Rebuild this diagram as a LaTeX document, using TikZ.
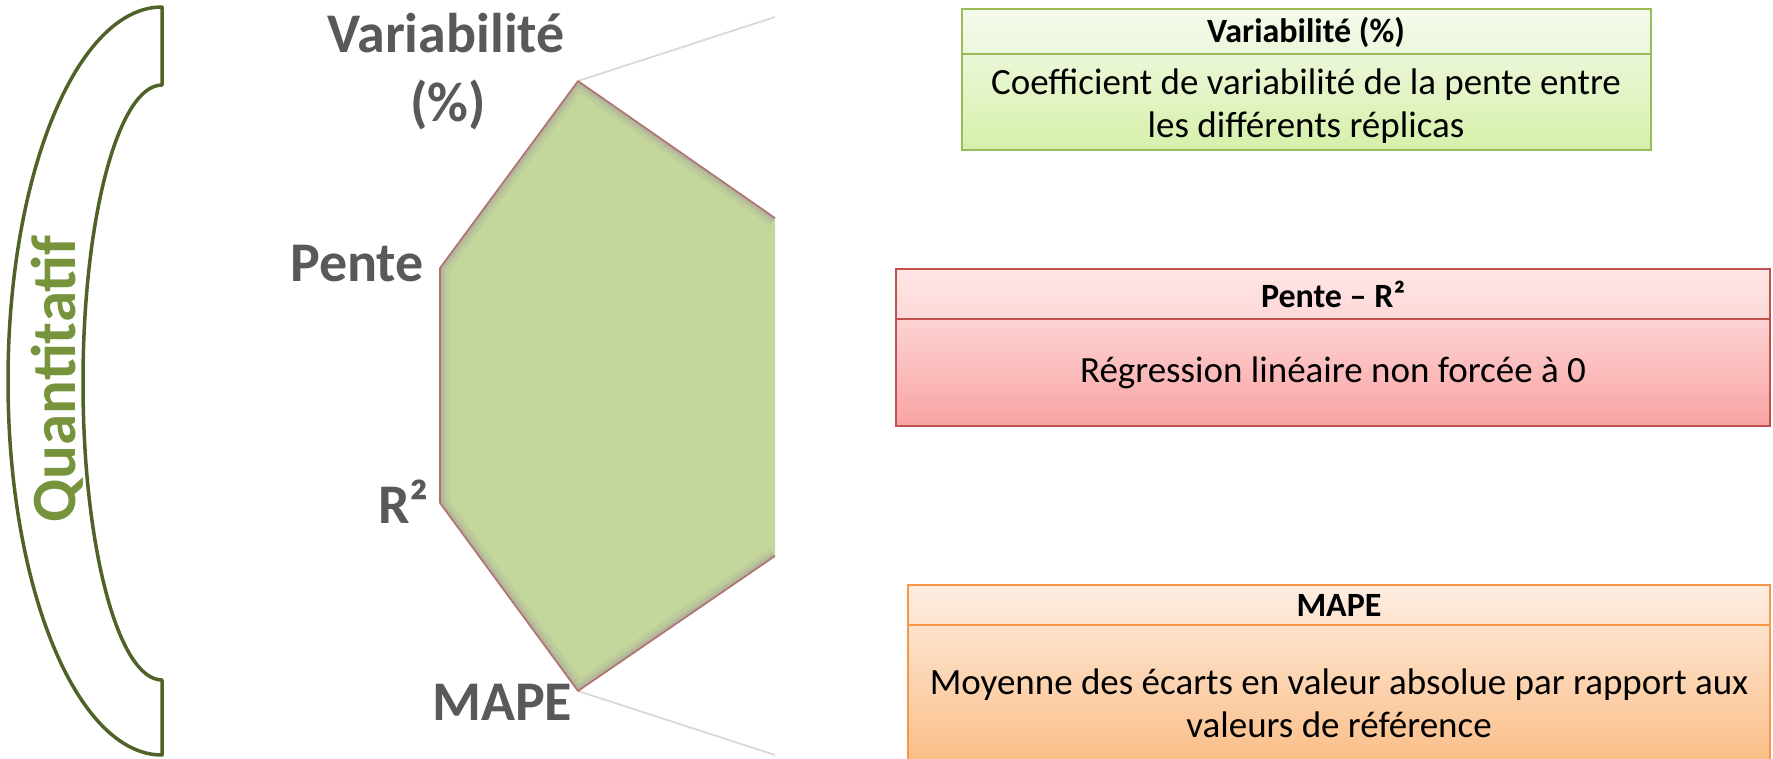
\documentclass[tikz,border=0pt]{standalone}
\usepackage{fontspec}
\setmainfont{Carlito}
\definecolor{labelgray}{HTML}{595959}
\definecolor{qgreen}{HTML}{77933C}
\definecolor{brgreen}{HTML}{4F6228}
\definecolor{hexfill}{HTML}{C3D69B}
\definecolor{hexedge}{HTML}{B07070}
\definecolor{hexshade}{HTML}{A8A49A}
\definecolor{greyline}{HTML}{D9D9D9}
\definecolor{gborder}{HTML}{9BBB59}
\definecolor{ghA}{HTML}{F4FAEA}
\definecolor{ghB}{HTML}{ECF7DC}
\definecolor{gbA}{HTML}{EBF7D8}
\definecolor{gbB}{HTML}{D6F0AA}
\definecolor{rborder}{HTML}{C0504D}
\definecolor{rhA}{HTML}{FFE6E6}
\definecolor{rhB}{HTML}{FDD8D8}
\definecolor{rbA}{HTML}{FDD2D2}
\definecolor{rbB}{HTML}{F9A3A3}
\definecolor{oborder}{HTML}{F79646}
\definecolor{ohA}{HTML}{FEEEE2}
\definecolor{ohB}{HTML}{FDE3CE}
\definecolor{obA}{HTML}{FDE3CD}
\definecolor{obB}{HTML}{FBBE88}
\begin{document}
\begin{tikzpicture}[x=1pt,y=-1pt,
  radarlabel/.style={font=\fontsize{56}{60}\selectfont\bfseries, text=labelgray, inner sep=0pt},
  boxhead/.style={font=\fontsize{34}{40}\selectfont\bfseries, inner sep=0pt},
  boxbody/.style={font=\fontsize{37}{43}\selectfont, align=center, inner sep=0pt},
  bracketline/.style={draw=brgreen, line width=3.5pt, line join=round},
  greyconn/.style={draw=greyline, line width=1.8pt},
  hexline/.style={draw=hexedge, line width=1.6pt, line join=round}]
\useasboundingbox (0,0) rectangle (1773,758);

% bracket
\draw[bracketline] (162,7) -- (162,85)
  .. controls (118.4,85) and (83,218.2) .. (83,382.5)
  .. controls (83,546.8) and (118.4,680) .. (162,680)
  -- (162,755)
  .. controls (77,755) and (8,587.6) .. (8,381)
  .. controls (8,174.4) and (77,7) .. (162,7) -- cycle;
\node[rotate=90, font=\fontsize{63}{70}\selectfont\bfseries, text=qgreen, inner sep=0pt] (q) at (57,379) {Quantitatif};

% radar polygon
\coordinate (vt) at (578,81);
\coordinate (vur) at (775,218);
\coordinate (vlr) at (775,556);
\coordinate (vb) at (578,691);
\coordinate (vll) at (440,503);
\coordinate (vul) at (440,268);
\coordinate (gt) at (775,17);
\coordinate (gb) at (775,755);
\draw[greyconn] (vt) -- (gt);
\draw[greyconn] (vb) -- (gb);
\begin{scope}
  \clip (vt) -- (vur) -- (vlr) -- (vb) -- (vll) -- (vul) -- cycle;
  \fill[hexfill] (vt) -- (vur) -- (vlr) -- (vb) -- (vll) -- (vul) -- cycle;
  \draw[hexshade, line width=18pt, opacity=0.18] (vur) -- (vt) -- (vul) -- (vll) -- (vb) -- (vlr);
  \draw[hexshade, line width=10pt, opacity=0.3] (vur) -- (vt) -- (vul) -- (vll) -- (vb) -- (vlr);
  \draw[hexshade, line width=5pt, opacity=0.45] (vur) -- (vt) -- (vul) -- (vll) -- (vb) -- (vlr);
\end{scope}
\draw[hexline] (vur) -- (vt) -- (vul) -- (vll) -- (vb) -- (vlr);

% radar labels
\node[radarlabel, anchor=base] (lv) at (446,52) {Variabilité};
\node[radarlabel] (lpc) at (448,105) {(\%)};
\node[radarlabel, anchor=base east] (lpe) at (424,281) {Pente};
\node[radarlabel, anchor=base west] (lr) at (378,523) {R²};
\node[radarlabel, anchor=base west] (lm) at (432,720) {MAPE};

% green box
\shade[top color=ghA, bottom color=ghB] (962,9) rectangle (1651,54);
\shade[top color=gbA, bottom color=gbB] (962,54) rectangle (1651,150);
\draw[draw=gborder, line width=2pt] (962,9) rectangle (1651,150);
\draw[draw=gborder, line width=2pt] (962,54) -- (1651,54);
\node[boxhead] (gh) at (1306,32) {Variabilité (\%)};
\node[boxbody] (gb1) at (1306,106) {Coefficient de variabilité de la pente entre\\les différents réplicas};

% red box
\shade[top color=rhA, bottom color=rhB] (896,269) rectangle (1770,319);
\shade[top color=rbA, bottom color=rbB] (896,319) rectangle (1770,426);
\draw[draw=rborder, line width=2pt] (896,269) rectangle (1770,426);
\draw[draw=rborder, line width=2pt] (896,319) -- (1770,319);
\node[boxhead] (rh) at (1333,294) {Pente – R²};
\node[boxbody] (rb1) at (1333,373) {Régression linéaire non forcée à 0};

% orange box
\shade[top color=ohA, bottom color=ohB] (908,585) rectangle (1770,625);
\shade[top color=obA, bottom color=obB] (908,625) rectangle (1770,762);
\draw[draw=oborder, line width=2pt] (908,762) -- (908,585) -- (1770,585) -- (1770,762);
\draw[draw=oborder, line width=2pt] (908,625) -- (1770,625);
\node[boxhead] (oh) at (1339,605) {MAPE};
\node[boxbody] (ob1) at (1339,703) {Moyenne des écarts en valeur absolue par rapport aux\\valeurs de référence};
\end{tikzpicture}
\end{document}
